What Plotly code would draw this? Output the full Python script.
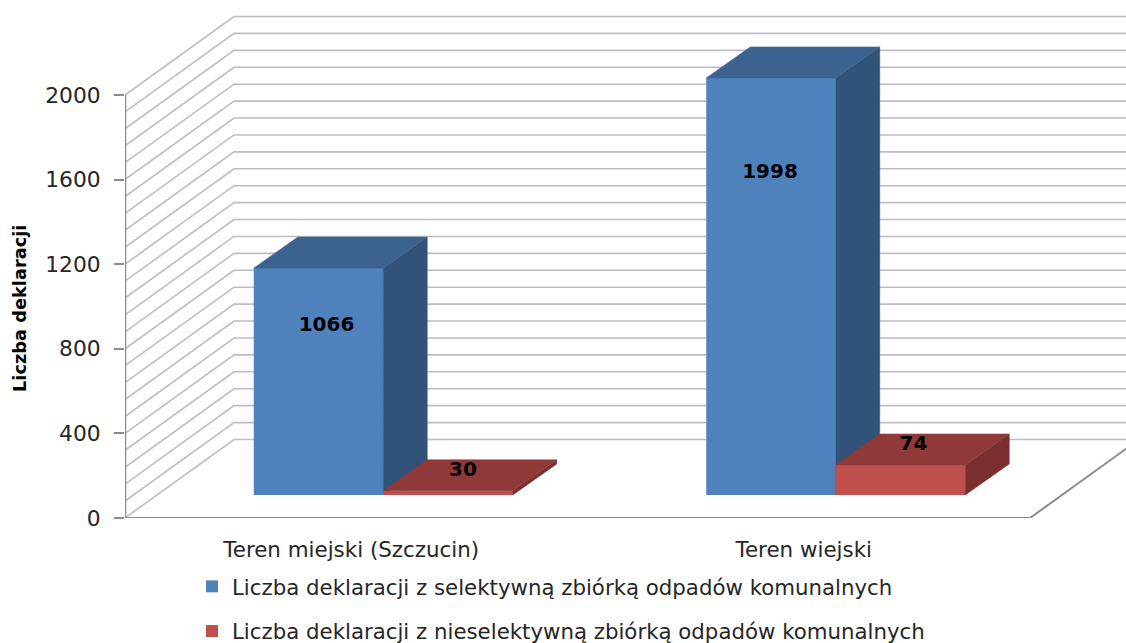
import plotly.graph_objects as go

# Data
categories = ["Teren miejski (Szczucin)", "Teren wiejski"]
selective_labels = [1066, 1998]
nonselective_labels = [30, 74]
# Bar heights as actually drawn, read against the value axis
selective_drawn = [1073, 1972]
nonselective_drawn = [20, 142]
value_ticks = [0, 400, 800, 1200, 1600, 2000]
minor_step = 80
name_a = "Liczba deklaracji z selektywną zbiórką odpadów komunalnych"
name_b = "Liczba deklaracji z nieselektywną zbiórką odpadów komunalnych"

W, H = 1126, 643
FONT = "DejaVu Sans"
TXT = "#262626"
GRID = "#BDBDBD"
AXIS = "#8C8C8C"

# Oblique projection constants
px_per_val = 0.2115
px_per_cat = 452.5
wall_dx = 109 / px_per_cat
wall_dy = 78.5 / px_per_val
front_dx = 32 / px_per_cat
front_dy = 23 / px_per_val
bar_dx = 44 / px_per_cat
bar_dy = 31 / px_per_val
bar_w = 129.5 / px_per_cat
x_end = -0.5 + (W - 125) / px_per_cat
y_end = 518 / px_per_val

fig = go.Figure()


def line(xs, ys, color, width, z=0):
    fig.add_trace(go.Scatter(x=xs, y=ys, mode="lines", line=dict(color=color, width=width),
                             showlegend=False, hoverinfo="skip", zorder=z, cliponaxis=True))


for v in range(0, value_ticks[-1] + 1, minor_step):
    line([-0.5, -0.5 + wall_dx, x_end], [v, v + wall_dy, v + wall_dy], GRID, 1.6)
line([-0.5, 1.5, 1.5 + wall_dx * 1.2], [0, 0, wall_dy * 1.2], AXIS, 2)
line([-0.5, -0.5], [0, value_ticks[-1]], AXIS, 2.5)


def poly(xs, ys, color, z):
    fig.add_trace(go.Scatter(x=xs + xs[:1], y=ys + ys[:1], mode="lines", fill="toself",
                             fillcolor=color, line=dict(color=color, width=0.5),
                             showlegend=False, hoverinfo="skip", zorder=z))


def series(values, shift, name, front, top, side, z, group):
    xc = [i + front_dx + shift * bar_w for i in range(len(values))]
    fig.add_trace(go.Bar(x=xc, y=values, base=[front_dy] * len(values), width=bar_w, name=name,
                         legendgroup=group, marker=dict(color=front, line=dict(width=0)),
                         hoverinfo="skip", zorder=z))
    for c, v in zip(xc, values):
        l, r = c - bar_w / 2, c + bar_w / 2
        b, t = front_dy, front_dy + v
        poly([r, r + bar_dx, r + bar_dx, r], [b, b + bar_dy, t + bar_dy, t], side, z + 1)
        poly([l, r, r + bar_dx, l + bar_dx], [t, t, t + bar_dy, t + bar_dy], top, z + 1)


series(selective_drawn, -0.5, name_a, "#4F81BD", "#3C6390", "#325379", 1, "a")
series(nonselective_drawn, 0.5, name_b, "#C0504D", "#8F3A38", "#7A2F2E", 3, "b")

# Value labels
lab_x_a = [i + front_dx - 0.5 * bar_w + d / px_per_cat for i, d in enumerate([8, -1])]
lab_y_a = [front_dy + f * v for f, v in zip([0.744, 0.772], selective_drawn)]
lab_x_b = [i + front_dx + 0.5 * bar_w + d / px_per_cat for i, d in enumerate([15, 13])]
lab_y_b = [front_dy + v + 95 for v in nonselective_drawn]
fig.add_trace(go.Scatter(x=lab_x_a + lab_x_b, y=lab_y_a + lab_y_b, mode="text",
                         text=[str(v) for v in selective_labels + nonselective_labels],
                         textposition="middle center",
                         textfont=dict(family=FONT, size=20, color="#000000", weight="bold"),
                         showlegend=False, hoverinfo="skip", zorder=6))

fig.update_layout(
    width=W, height=H, autosize=False,
    margin=dict(l=0, r=0, t=0, b=0, autoexpand=False),
    paper_bgcolor="white", plot_bgcolor="white",
    barmode="overlay",
    font=dict(family=FONT, size=20, color=TXT),
    xaxis=dict(domain=[125 / W, 1], range=[-0.5, x_end], tickmode="array",
               tickvals=[0, 1], ticktext=categories, ticks="", showgrid=False,
               zeroline=False, showline=False, ticklabelstandoff=17,
               tickfont=dict(family=FONT, size=21.4, color=TXT)),
    yaxis=dict(domain=[1 - 518 / H, 1], range=[0, y_end], tickmode="array",
               tickvals=value_ticks, ticks="outside", ticklen=10, tickwidth=2,
               tickcolor=AXIS, showgrid=False, zeroline=False, showline=False,
               ticklabelstandoff=9,
               tickfont=dict(family=FONT, size=21.8, color=TXT)),
    legend=dict(x=192 / W, xanchor="left", y=1 - 566 / H, yanchor="top",
                orientation="v", traceorder="grouped", tracegroupgap=14,
                bgcolor="rgba(0,0,0,0)", itemclick=False, itemdoubleclick=False,
                font=dict(family=FONT, size=21.3, color=TXT)),
    annotations=[dict(text="<b>Liczba deklaracji</b>", xref="paper", yref="paper",
                      x=20 / W, y=1 - 309 / H, textangle=-90, showarrow=False,
                      xanchor="center", yanchor="middle",
                      font=dict(family=FONT, size=17.8, color="#000000"))],
)

fig.write_html("out.html", config=dict(displayModeBar=False),
               post_script="document.body.style.margin='0';document.body.style.overflow='hidden';")
